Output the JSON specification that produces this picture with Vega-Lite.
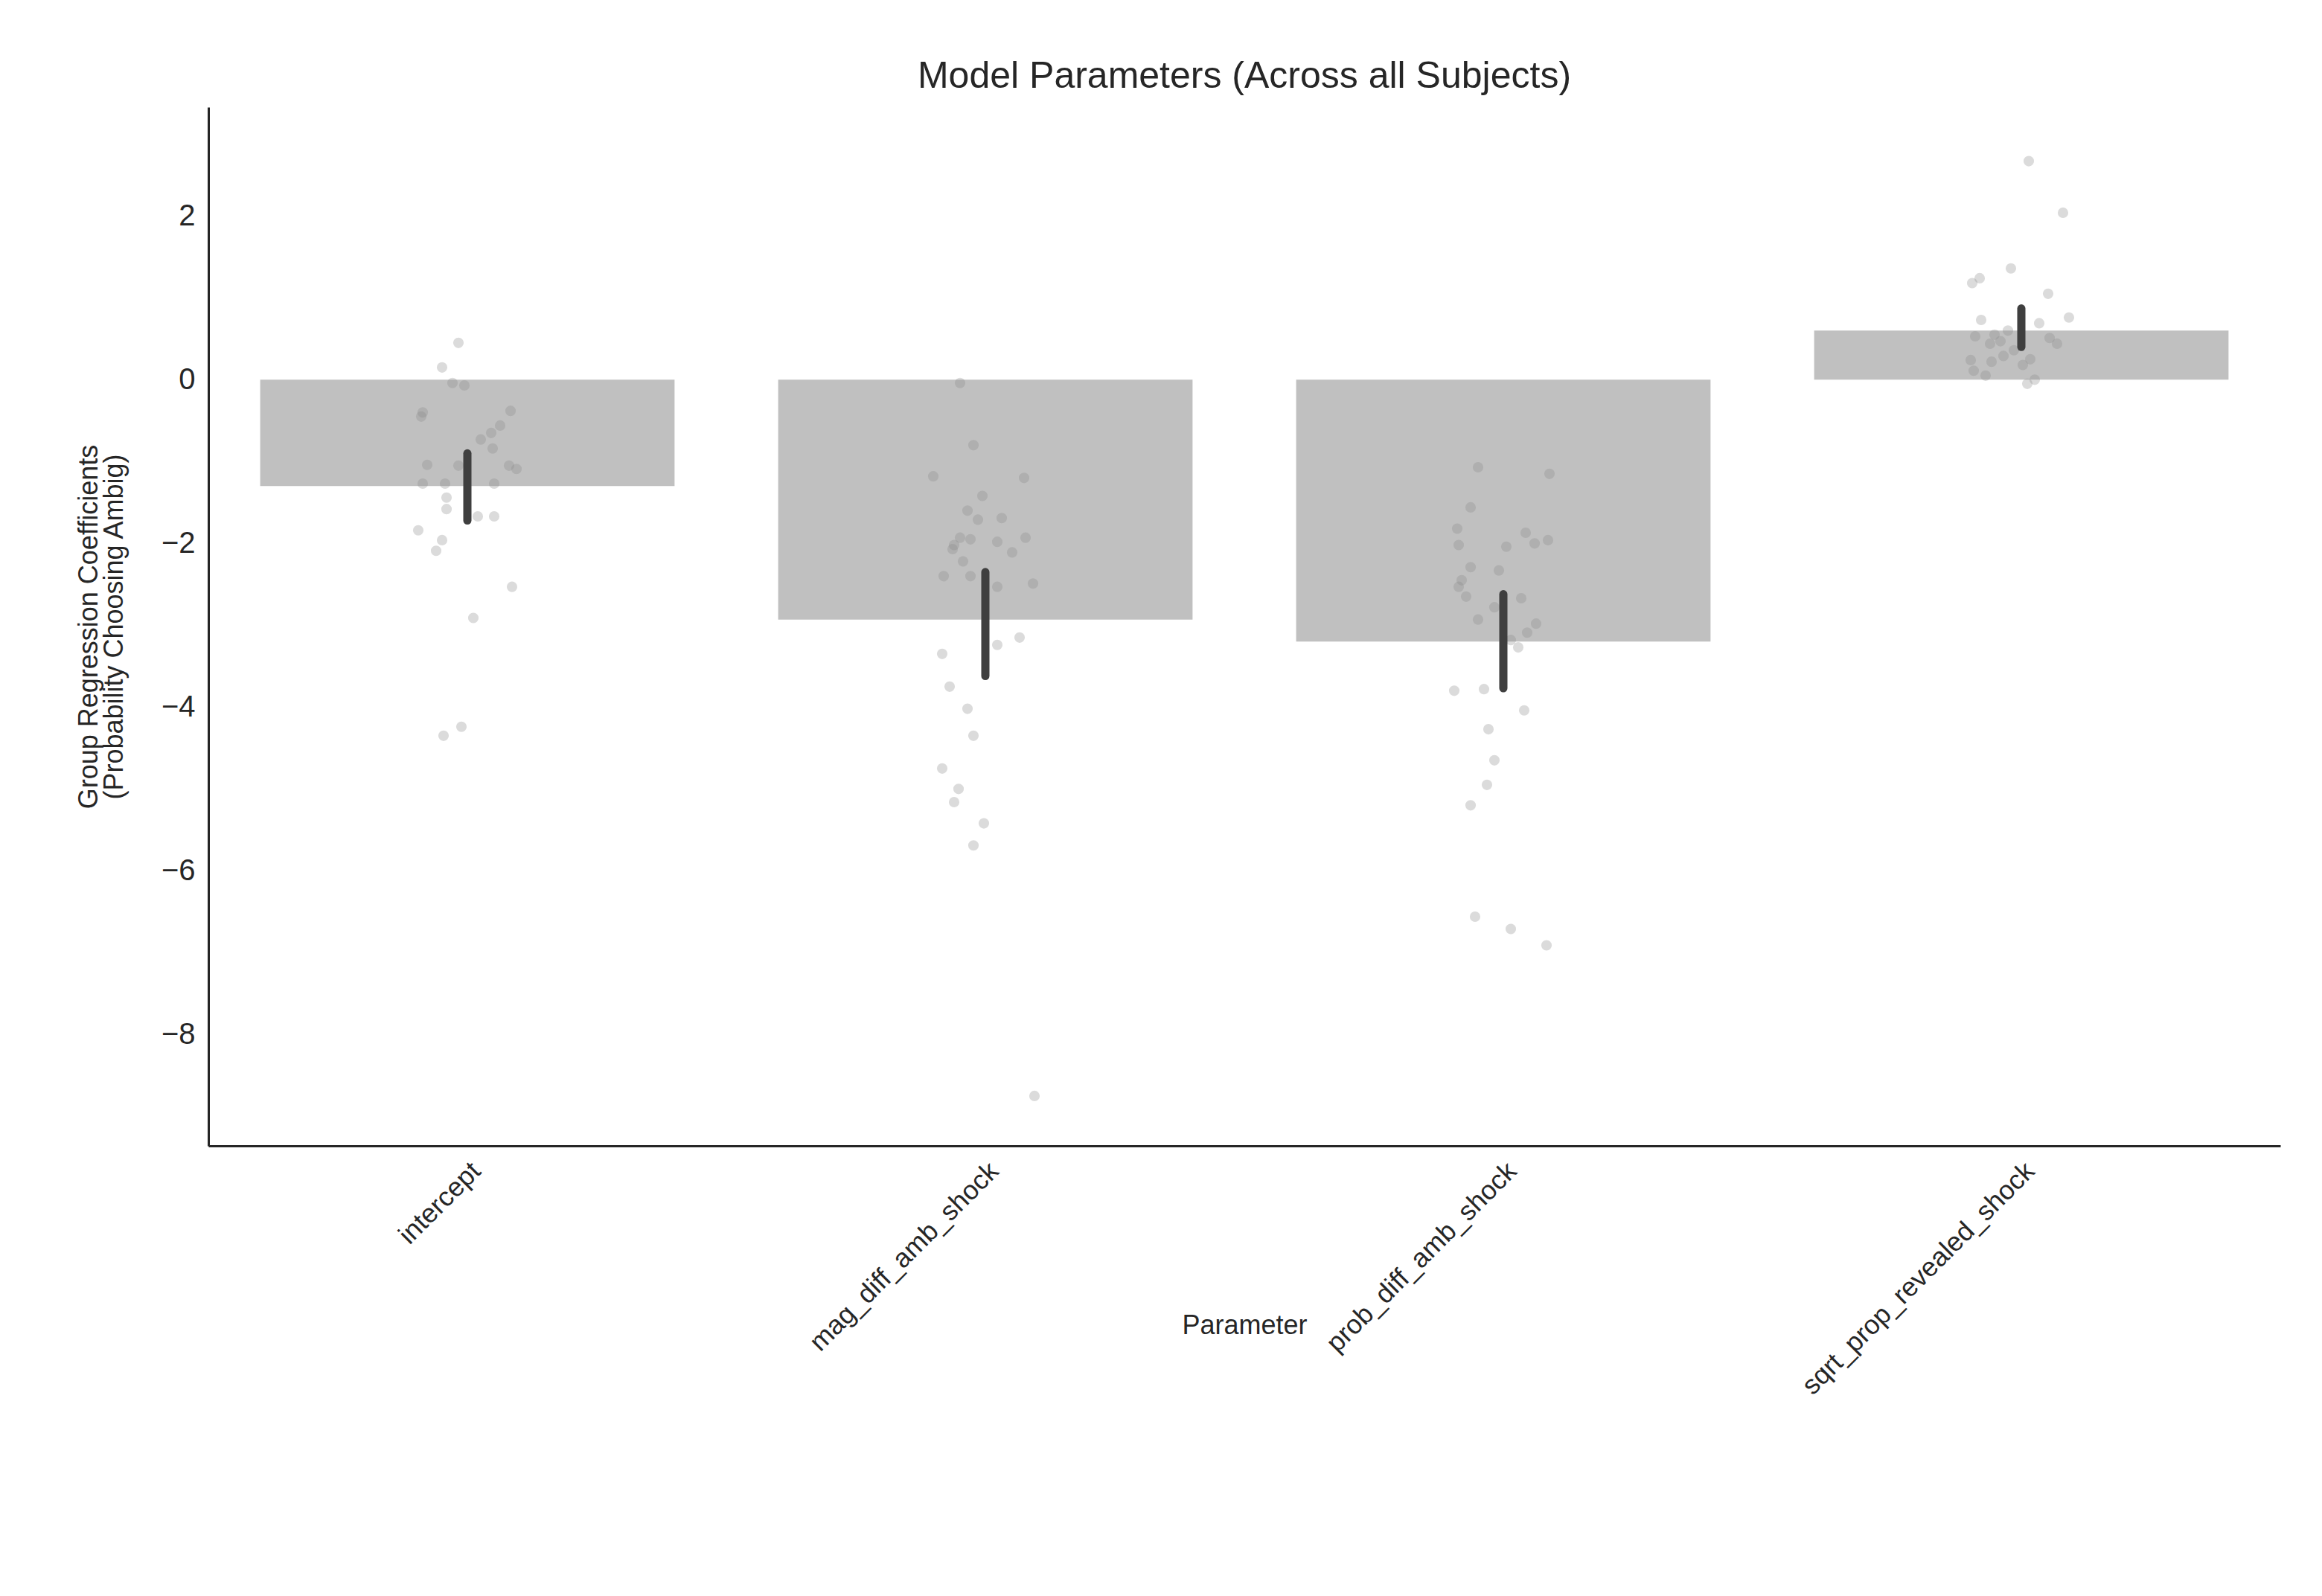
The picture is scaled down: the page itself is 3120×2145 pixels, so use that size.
{
  "$schema": "https://vega.github.io/schema/vega-lite/v6.json",
  "width": 2784,
  "height": 1396,
  "autosize": "none",
  "padding": {"left": 280, "top": 144, "right": 56, "bottom": 605},
  "background": "white",
  "config": {
    "font": "Liberation Sans",
    "view": {"stroke": null},
    "axis": {"grid": false, "ticks": false, "domainColor": "#262626", "domainWidth": 3, "labelColor": "#262626", "titleColor": "#262626", "titleFontWeight": "normal", "labelFontSize": 40, "titleFontSize": 38}
  },
  "title": {"text": "Model Parameters (Across all Subjects)", "fontSize": 50, "fontWeight": "normal", "color": "#262626", "offset": 16},
  "resolve": {"scale": {"xOffset": "independent"}},
  "datasets": {
    "summary": [
      {"param": "intercept", "mean": -1.3, "lo": -1.72, "hi": -0.9},
      {"param": "mag_diff_amb_shock", "mean": -2.93, "lo": -3.62, "hi": -2.35},
      {"param": "prob_diff_amb_shock", "mean": -3.2, "lo": -3.77, "hi": -2.62},
      {"param": "sqrt_prop_revealed_shock", "mean": 0.6, "lo": 0.4, "hi": 0.87}
    ],
    "subjects": [
      {"param": "intercept", "jitter": -6, "coef": 0.45},
      {"param": "intercept", "jitter": -17, "coef": 0.15},
      {"param": "intercept", "jitter": -10, "coef": -0.04},
      {"param": "intercept", "jitter": -2, "coef": -0.07},
      {"param": "intercept", "jitter": -30, "coef": -0.4},
      {"param": "intercept", "jitter": -31, "coef": -0.45},
      {"param": "intercept", "jitter": 29, "coef": -0.38},
      {"param": "intercept", "jitter": 22, "coef": -0.56},
      {"param": "intercept", "jitter": 16, "coef": -0.65},
      {"param": "intercept", "jitter": 9, "coef": -0.73},
      {"param": "intercept", "jitter": 17, "coef": -0.84},
      {"param": "intercept", "jitter": -27, "coef": -1.04},
      {"param": "intercept", "jitter": -6, "coef": -1.05},
      {"param": "intercept", "jitter": 28, "coef": -1.05},
      {"param": "intercept", "jitter": 33, "coef": -1.09},
      {"param": "intercept", "jitter": -30, "coef": -1.27},
      {"param": "intercept", "jitter": -15, "coef": -1.27},
      {"param": "intercept", "jitter": 18, "coef": -1.27},
      {"param": "intercept", "jitter": -14, "coef": -1.44},
      {"param": "intercept", "jitter": -14, "coef": -1.58},
      {"param": "intercept", "jitter": 7, "coef": -1.67},
      {"param": "intercept", "jitter": 18, "coef": -1.67},
      {"param": "intercept", "jitter": -33, "coef": -1.84},
      {"param": "intercept", "jitter": -17, "coef": -1.96},
      {"param": "intercept", "jitter": -21, "coef": -2.09},
      {"param": "intercept", "jitter": 30, "coef": -2.53},
      {"param": "intercept", "jitter": 4, "coef": -2.91},
      {"param": "intercept", "jitter": -4, "coef": -4.24},
      {"param": "intercept", "jitter": -16, "coef": -4.35},
      {"param": "mag_diff_amb_shock", "jitter": -17, "coef": -0.04},
      {"param": "mag_diff_amb_shock", "jitter": -8, "coef": -0.8},
      {"param": "mag_diff_amb_shock", "jitter": -35, "coef": -1.18},
      {"param": "mag_diff_amb_shock", "jitter": 26, "coef": -1.2},
      {"param": "mag_diff_amb_shock", "jitter": -2, "coef": -1.42},
      {"param": "mag_diff_amb_shock", "jitter": -12, "coef": -1.6},
      {"param": "mag_diff_amb_shock", "jitter": 11, "coef": -1.69},
      {"param": "mag_diff_amb_shock", "jitter": -5, "coef": -1.71},
      {"param": "mag_diff_amb_shock", "jitter": -17, "coef": -1.93},
      {"param": "mag_diff_amb_shock", "jitter": -10, "coef": -1.95},
      {"param": "mag_diff_amb_shock", "jitter": 27, "coef": -1.93},
      {"param": "mag_diff_amb_shock", "jitter": -21, "coef": -2.02},
      {"param": "mag_diff_amb_shock", "jitter": 8, "coef": -1.98},
      {"param": "mag_diff_amb_shock", "jitter": 18, "coef": -2.11},
      {"param": "mag_diff_amb_shock", "jitter": -22, "coef": -2.07},
      {"param": "mag_diff_amb_shock", "jitter": -15, "coef": -2.22},
      {"param": "mag_diff_amb_shock", "jitter": -28, "coef": -2.4},
      {"param": "mag_diff_amb_shock", "jitter": -10, "coef": -2.4},
      {"param": "mag_diff_amb_shock", "jitter": 8, "coef": -2.53},
      {"param": "mag_diff_amb_shock", "jitter": 32, "coef": -2.49},
      {"param": "mag_diff_amb_shock", "jitter": 23, "coef": -3.15},
      {"param": "mag_diff_amb_shock", "jitter": 8, "coef": -3.24},
      {"param": "mag_diff_amb_shock", "jitter": -29, "coef": -3.35},
      {"param": "mag_diff_amb_shock", "jitter": -24, "coef": -3.75},
      {"param": "mag_diff_amb_shock", "jitter": -12, "coef": -4.02},
      {"param": "mag_diff_amb_shock", "jitter": -8, "coef": -4.35},
      {"param": "mag_diff_amb_shock", "jitter": -29, "coef": -4.75},
      {"param": "mag_diff_amb_shock", "jitter": -18, "coef": -5.0},
      {"param": "mag_diff_amb_shock", "jitter": -21, "coef": -5.16},
      {"param": "mag_diff_amb_shock", "jitter": -1, "coef": -5.42},
      {"param": "mag_diff_amb_shock", "jitter": -8, "coef": -5.69},
      {"param": "mag_diff_amb_shock", "jitter": 33, "coef": -8.75},
      {"param": "prob_diff_amb_shock", "jitter": -17, "coef": -1.07},
      {"param": "prob_diff_amb_shock", "jitter": 31, "coef": -1.15},
      {"param": "prob_diff_amb_shock", "jitter": -22, "coef": -1.56},
      {"param": "prob_diff_amb_shock", "jitter": -31, "coef": -1.82},
      {"param": "prob_diff_amb_shock", "jitter": 15, "coef": -1.87},
      {"param": "prob_diff_amb_shock", "jitter": 30, "coef": -1.96},
      {"param": "prob_diff_amb_shock", "jitter": 21, "coef": -2.0},
      {"param": "prob_diff_amb_shock", "jitter": -30, "coef": -2.02},
      {"param": "prob_diff_amb_shock", "jitter": 2, "coef": -2.04},
      {"param": "prob_diff_amb_shock", "jitter": -22, "coef": -2.29},
      {"param": "prob_diff_amb_shock", "jitter": -3, "coef": -2.33},
      {"param": "prob_diff_amb_shock", "jitter": -28, "coef": -2.45},
      {"param": "prob_diff_amb_shock", "jitter": -30, "coef": -2.53},
      {"param": "prob_diff_amb_shock", "jitter": -25, "coef": -2.65},
      {"param": "prob_diff_amb_shock", "jitter": 12, "coef": -2.67},
      {"param": "prob_diff_amb_shock", "jitter": -6, "coef": -2.78},
      {"param": "prob_diff_amb_shock", "jitter": -17, "coef": -2.93},
      {"param": "prob_diff_amb_shock", "jitter": 22, "coef": -2.98},
      {"param": "prob_diff_amb_shock", "jitter": 16, "coef": -3.09},
      {"param": "prob_diff_amb_shock", "jitter": 5, "coef": -3.18},
      {"param": "prob_diff_amb_shock", "jitter": 10, "coef": -3.27},
      {"param": "prob_diff_amb_shock", "jitter": -33, "coef": -3.8},
      {"param": "prob_diff_amb_shock", "jitter": -13, "coef": -3.78},
      {"param": "prob_diff_amb_shock", "jitter": 14, "coef": -4.04},
      {"param": "prob_diff_amb_shock", "jitter": -10, "coef": -4.27},
      {"param": "prob_diff_amb_shock", "jitter": -6, "coef": -4.65},
      {"param": "prob_diff_amb_shock", "jitter": -11, "coef": -4.95},
      {"param": "prob_diff_amb_shock", "jitter": -22, "coef": -5.2},
      {"param": "prob_diff_amb_shock", "jitter": -19, "coef": -6.56},
      {"param": "prob_diff_amb_shock", "jitter": 5, "coef": -6.71},
      {"param": "prob_diff_amb_shock", "jitter": 29, "coef": -6.91},
      {"param": "sqrt_prop_revealed_shock", "jitter": 5, "coef": 2.67},
      {"param": "sqrt_prop_revealed_shock", "jitter": 28, "coef": 2.04},
      {"param": "sqrt_prop_revealed_shock", "jitter": -7, "coef": 1.36},
      {"param": "sqrt_prop_revealed_shock", "jitter": -28, "coef": 1.24},
      {"param": "sqrt_prop_revealed_shock", "jitter": -33, "coef": 1.18},
      {"param": "sqrt_prop_revealed_shock", "jitter": 18, "coef": 1.05},
      {"param": "sqrt_prop_revealed_shock", "jitter": -27, "coef": 0.73},
      {"param": "sqrt_prop_revealed_shock", "jitter": 32, "coef": 0.76},
      {"param": "sqrt_prop_revealed_shock", "jitter": 12, "coef": 0.69},
      {"param": "sqrt_prop_revealed_shock", "jitter": -9, "coef": 0.6},
      {"param": "sqrt_prop_revealed_shock", "jitter": -31, "coef": 0.53},
      {"param": "sqrt_prop_revealed_shock", "jitter": -18, "coef": 0.55},
      {"param": "sqrt_prop_revealed_shock", "jitter": -14, "coef": 0.47},
      {"param": "sqrt_prop_revealed_shock", "jitter": -21, "coef": 0.44},
      {"param": "sqrt_prop_revealed_shock", "jitter": 19, "coef": 0.51},
      {"param": "sqrt_prop_revealed_shock", "jitter": 24, "coef": 0.44},
      {"param": "sqrt_prop_revealed_shock", "jitter": -5, "coef": 0.36},
      {"param": "sqrt_prop_revealed_shock", "jitter": -12, "coef": 0.29},
      {"param": "sqrt_prop_revealed_shock", "jitter": -20, "coef": 0.22},
      {"param": "sqrt_prop_revealed_shock", "jitter": 6, "coef": 0.25},
      {"param": "sqrt_prop_revealed_shock", "jitter": -34, "coef": 0.24},
      {"param": "sqrt_prop_revealed_shock", "jitter": 1, "coef": 0.18},
      {"param": "sqrt_prop_revealed_shock", "jitter": -32, "coef": 0.11},
      {"param": "sqrt_prop_revealed_shock", "jitter": -24, "coef": 0.05},
      {"param": "sqrt_prop_revealed_shock", "jitter": 9, "coef": 0.0},
      {"param": "sqrt_prop_revealed_shock", "jitter": 4, "coef": -0.05}
    ]
  },
  "encoding": {
    "x": {"field": "param", "type": "nominal", "sort": null, "title": "Parameter",
      "scale": {"padding": 0},
      "axis": {"labelAngle": -45, "labelAlign": "right", "labelBaseline": "top", "labelPadding": 16, "labelLimit": 2000, "titleFontSize": 36, "titlePadding": 24, "labelFontSize": 36}},
    "y": {"type": "quantitative", "scale": {"domain": [-9.36, 3.33], "nice": false, "zero": false},
      "title": ["Group Regression Coefficients", "(Probability Choosing Ambig)"],
      "axis": {"values": [-8, -6, -4, -2, 0, 2], "labelPadding": 18, "titlePadding": 44, "titleLineHeight": 34, "titleFontSize": 36}}
  },
  "layer": [
    {
      "data": {"name": "summary"},
      "mark": {"type": "bar", "color": "#c0c0c0", "width": {"band": 0.8}},
      "encoding": {"y": {"field": "mean", "type": "quantitative"}, "y2": {"datum": 0}}
    },
    {
      "data": {"name": "subjects"},
      "mark": {"type": "circle", "color": "#888888", "opacity": 0.3, "size": 200},
      "encoding": {
        "y": {"field": "coef", "type": "quantitative"},
        "xOffset": {"field": "jitter", "type": "quantitative", "scale": {"domain": [-174, 174], "range": [0, 696]}}
      }
    },
    {
      "data": {"name": "summary"},
      "mark": {"type": "rule", "color": "#3f3f3f", "strokeWidth": 11, "strokeCap": "round"},
      "encoding": {"y": {"field": "lo", "type": "quantitative"}, "y2": {"field": "hi"}}
    }
  ]
}
